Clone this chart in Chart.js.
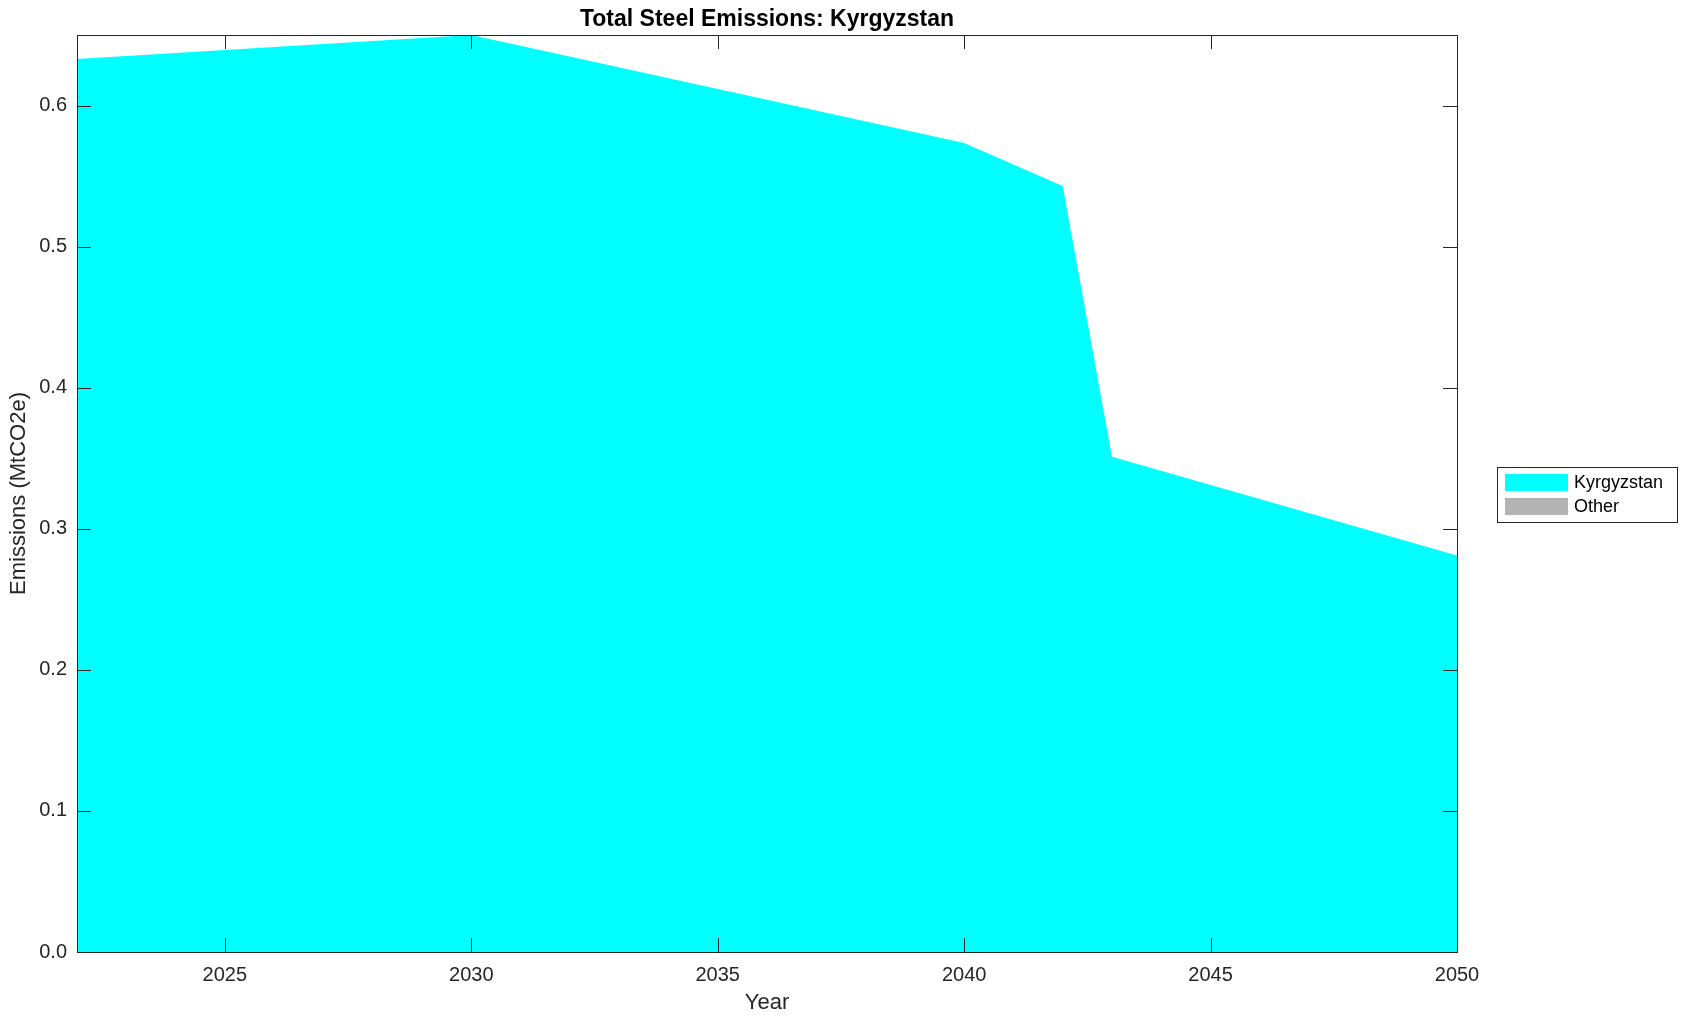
<!DOCTYPE html>
<html>
<head>
<meta charset="utf-8">
<script src="https://cdn.jsdelivr.net/npm/chart.js@4/dist/chart.umd.min.js"></script>
<style>
  html, body { margin: 0; padding: 0; background: #ffffff; }
  #wrap { width: 1687px; height: 1021px; position: relative; }
</style>
</head>
<body>
<div id="wrap"><canvas id="c" width="1687" height="1021"></canvas></div>
<script>
// ---- Data ----
const chartTitle = 'Total Steel Emissions: Kyrgyzstan';
const xTitle = 'Year';
const yTitle = 'Emissions (MtCO2e)';
const years = [2022, 2030, 2040, 2042, 2043, 2050];
const kyrgyzstan = [0.633, 0.650, 0.5735, 0.543, 0.351, 0.281];
const other = [0, 0, 0, 0, 0, 0];
const seriesNames = ['Kyrgyzstan', 'Other'];
const seriesColors = ['#00ffff', '#b3b3b3'];
const xTicks = [2025, 2030, 2035, 2040, 2045, 2050];
const yTicks = [0.0, 0.1, 0.2, 0.3, 0.4, 0.5, 0.6];

const FONT = '"Liberation Sans", Arial, Helvetica, sans-serif';
const AXIS = '#262626';

function pts(vals) { return years.map((y, i) => ({ x: y, y: vals[i] })); }

const frame = {
  id: 'frame',
  afterDatasetsDraw(chart) {
    const { ctx, chartArea: a, scales: { x, y } } = chart;
    const TL = 14;
    ctx.save();
    ctx.strokeStyle = AXIS;
    ctx.lineWidth = 1;
    ctx.beginPath();
    x.ticks.forEach(t => {
      const px = Math.round(x.getPixelForValue(t.value)) + 0.5;
      ctx.moveTo(px, a.bottom); ctx.lineTo(px, a.bottom - TL);
      ctx.moveTo(px, a.top); ctx.lineTo(px, a.top + TL);
    });
    y.ticks.forEach(t => {
      const py = Math.round(y.getPixelForValue(t.value)) + 0.5;
      ctx.moveTo(a.left, py); ctx.lineTo(a.left + TL, py);
      ctx.moveTo(a.right, py); ctx.lineTo(a.right - TL, py);
    });
    ctx.stroke();
    ctx.strokeRect(Math.round(a.left) + 0.5, Math.round(a.top) + 0.5,
                   Math.round(a.right - a.left), Math.round(a.bottom - a.top));
    // title centred over the plot area
    ctx.fillStyle = '#000000';
    ctx.font = 'bold 23px ' + FONT;
    ctx.textAlign = 'center';
    ctx.textBaseline = 'middle';
    ctx.fillText(chartTitle, (a.left + a.right) / 2, 20);
    // legend
    const lx = 1497.5, ly = 467.5, lw = 180, lh = 55;
    ctx.fillStyle = '#ffffff';
    ctx.fillRect(lx, ly, lw, lh);
    ctx.strokeRect(lx, ly, lw, lh);
    ctx.font = '18px ' + FONT;
    ctx.textBaseline = 'middle';
    ctx.textAlign = 'left';
    chart.data.datasets.forEach((ds, i) => {
      const sy = 474 + i * 24;
      ctx.fillStyle = ds.backgroundColor;
      ctx.fillRect(1505, sy, 63, 17);
      ctx.fillStyle = '#000000';
      ctx.fillText(ds.label, 1574, sy + 9);
    });
    ctx.restore();
  }
};

new Chart(document.getElementById('c'), {
  type: 'line',
  data: {
    datasets: [
      { label: seriesNames[0], data: pts(kyrgyzstan), backgroundColor: seriesColors[0],
        borderWidth: 0, pointRadius: 0, fill: 'origin', tension: 0 },
      { label: seriesNames[1], data: pts(other), backgroundColor: seriesColors[1],
        borderWidth: 0, pointRadius: 0, fill: '-1', tension: 0 }
    ]
  },
  options: {
    responsive: false,
    animation: false,
    layout: { padding: { left: 0, right: 230, top: 35, bottom: 0 } },
    plugins: {
      legend: { display: false },
      tooltip: { enabled: false },
      title: { display: false }
    },
    scales: {
      x: {
        type: 'linear', min: 2022, max: 2050,
        grid: { display: false, drawTicks: false },
        border: { display: false },
        afterBuildTicks: s => { s.ticks = xTicks.map(v => ({ value: v })); },
        afterFit: s => { s.height = 69; },
        ticks: { color: AXIS, font: { family: FONT, size: 20 }, padding: 11,
                 maxRotation: 0, autoSkip: false, callback: v => String(v) },
        title: { display: true, text: xTitle, color: AXIS,
                 font: { family: FONT, size: 22 }, padding: { top: 0, bottom: 5 } }
      },
      y: {
        type: 'linear', min: 0, max: 0.65, stacked: true,
        grid: { display: false, drawTicks: false },
        border: { display: false },
        afterBuildTicks: s => { s.ticks = yTicks.map(v => ({ value: v })); },
        afterFit: s => { s.width = 77; },
        ticks: { color: AXIS, font: { family: FONT, size: 20 }, padding: 10,
                 autoSkip: false, callback: v => Number(v).toFixed(1) },
        title: { display: true, text: yTitle, color: AXIS,
                 font: { family: FONT, size: 22 }, padding: { top: 6, bottom: 0 } }
      }
    }
  },
  plugins: [frame]
});
</script>
</body>
</html>
